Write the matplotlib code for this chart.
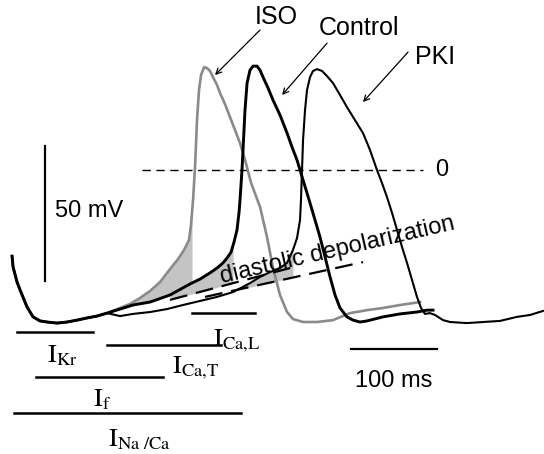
import numpy as np
import matplotlib.pyplot as plt

plt.rcParams['font.family'] = ['Liberation Sans', 'DejaVu Sans']
plt.rcParams['mathtext.fontset'] = 'stix'

# shared start of all three traces (time ms, membrane potential mV)
t_start = [0, 1.2, 5.8, 9.3, 17.4, 24.4, 32.6, 40.7, 52.3, 64.0, 75.6, 87.2, 98.8, 110.5]
v_start = [-31.9, -35.9, -41.5, -44.4, -50.7, -54.4, -55.9, -56.3, -56.7, -56.3, -55.6, -54.8, -54.1, -53.0]

t_iso = [125.6, 137.2, 148.8, 160.5, 172.1, 183.7, 193.0, 200.0, 205.8, 208.1, 210.5, 212.8, 215.1,
         217.4, 219.8, 223.3, 226.7, 230.2, 233.7, 238.4, 241.9, 247.7, 253.5, 259.3, 265.1, 271.0,
         278.0, 288.4, 296.5, 303.5, 311.6, 319.8, 326.7, 338.4, 354.7, 373.3, 393.0, 412.8, 431.4,
         451.2, 474.4]
v_iso = [-51.1, -49.6, -47.4, -44.8, -41.5, -36.7, -33.0, -29.6, -25.9, -20.4, -11.1, 1.1, 18.5,
         29.6, 35.2, 38.1, 37.8, 36.7, 34.4, 31.5, 28.5, 24.4, 19.6, 14.8, 10.0, 3.7,
         -4.8, -13.7, -24.8, -36.3, -46.3, -52.6, -55.2, -56.3, -56.3, -55.6, -53.0, -51.9, -51.1,
         -50.0, -48.9]

t_ctrl = [125.6, 140.7, 160.5, 183.7, 207.0, 218.6, 230.2, 238.4, 245.3, 250.0, 254.7, 258.1, 261.6,
          264.0, 265.1, 267.4, 268.6, 270.9, 273.3, 276.7, 280.2, 284.9, 288.4, 291.9, 297.7, 303.5,
          311.6, 319.8, 325.6, 331.4, 338.4, 346.5, 352.3, 358.1, 364.0, 369.8, 375.6, 381.4, 389.5,
          396.5, 404.7, 412.8, 431.4, 451.2, 470.9, 482.6, 489.5]
v_ctrl = [-51.5, -50.0, -48.9, -46.3, -42.2, -40.4, -38.1, -36.3, -34.4, -32.6, -30.4, -26.7, -22.2,
          -15.6, -11.1, 0.0, 7.4, 22.2, 32.2, 37.0, 38.5, 38.5, 37.0, 34.4, 30.4, 25.9,
          20.4, 13.7, 8.5, 3.7, -3.7, -12.2, -18.5, -24.8, -32.2, -39.6, -46.3, -51.1, -54.4,
          -55.6, -56.3, -55.9, -54.4, -53.3, -52.6, -51.9, -51.9]

t_pki = [125.6, 140.7, 160.5, 180.2, 198.8, 218.6, 238.4, 257.0, 276.7, 288.4, 300.0, 311.6, 319.8,
         326.7, 331.4, 334.9, 336.0, 337.2, 338.4, 340.7, 343.0, 346.5, 350.0, 354.7, 360.5, 366.3,
         373.3, 381.4, 389.5, 398.8, 408.1, 416.3, 424.4, 430.2, 436.0, 441.9, 447.7, 453.5, 459.3,
         465.1, 470.9, 475.6, 480.2, 486.0, 491.9, 501.2, 509.3, 529.1, 547.7, 567.4, 587.2, 602.3, 617.4]
v_pki = [-54.1, -53.3, -52.6, -51.5, -50.0, -48.5, -47.0, -45.2, -41.9, -39.6, -37.8, -36.3, -34.4,
         -29.6, -25.2, -18.5, -11.1, 0.0, 11.1, 22.2, 29.6, 34.4, 36.7, 37.4, 36.7, 34.8,
         32.2, 27.8, 23.3, 18.5, 13.7, 7.4, 0.0, -4.8, -10.0, -15.9, -22.2, -28.5, -34.4,
         -40.7, -47.0, -51.1, -53.3, -53.0, -53.7, -55.6, -56.3, -56.7, -56.3, -55.9, -54.4, -53.7, -52.2]

# diastolic depolarization slopes (dashed)
t_slope_a = [183.7, 323.3]
v_slope_a = [-48.1, -36.3]
t_slope_b = [224.4, 408.1]
v_slope_b = [-47.0, -34.1]

# ionic current windows: start, end (ms), level (mV), label anchor
currents = ['Kr', 'Ca{,}L', 'Ca{,}T', 'f', 'Na\\ /Ca']
cur_t0 = [5.8, 209.3, 110.5, 27.9, 2.3]
cur_t1 = [94.2, 282.6, 243.0, 175.6, 266.3]
cur_v = [-60.0, -53.0, -64.8, -76.7, -90.0]
lab_t = [40.7, 233.7, 186.0, 94.2, 111.6]
lab_v = [-64.1, -58.1, -68.1, -80.4, -95.2]

t_iso_full = np.array(t_start + t_iso)
v_iso_full = np.array(v_start + v_iso)
t_ctrl_full = np.array(t_start + t_ctrl)
v_ctrl_full = np.array(v_start + v_ctrl)
t_pki_full = np.array(t_start + t_pki)
v_pki_full = np.array(v_start + v_pki)

fig = plt.figure(figsize=(5.44, 4.54), dpi=100)
ax = fig.add_axes([0, 0, 1, 1])
ax.set_xlim(-14.0, 618.6)
ax.set_ylim(-105.2, 63.0)
ax.axis('off')

shade = '#c4c4c4'
# ISO shading: between ISO and control
tt = np.linspace(119.8, 209.3, 120)
ax.fill_between(tt, np.interp(tt, t_ctrl_full, v_ctrl_full), np.interp(tt, t_iso_full, v_iso_full),
                color=shade, lw=0, zorder=1)
# control shading: between control and slope a
tt = np.linspace(183.7, 257.0, 120)
lo = np.interp(tt, t_slope_a, v_slope_a)
hi = np.interp(tt, t_ctrl_full, v_ctrl_full)
ax.fill_between(tt, lo, hi, where=hi >= lo, color=shade, lw=0, zorder=1)
# PKI shading: between PKI and slope b
tt = np.linspace(257.0, 326.7, 120)
lo = np.interp(tt, t_slope_b, v_slope_b)
hi = np.interp(tt, t_pki_full, v_pki_full)
ax.fill_between(tt, lo, hi, where=hi >= lo, color=shade, lw=0, zorder=1)

ax.plot(t_iso_full, v_iso_full, color='#8a8a8a', lw=1.9, zorder=3)
ax.plot(t_ctrl_full, v_ctrl_full, color='black', lw=2.1, zorder=4)
ax.plot(t_pki_full, v_pki_full, color='black', lw=1.5, zorder=4)

ax.plot(t_slope_a, v_slope_a, color='black', lw=1.6, dashes=(8, 4), zorder=5)
ax.plot(t_slope_b, v_slope_b, color='black', lw=1.6, dashes=(8, 4), zorder=5)

# zero line
ax.plot([151.2, 477.9], [0, 0], color='black', lw=1.0, dashes=(6, 4))
ax.text(500, 0, '0', fontsize=17, ha='center', va='center')

# scale bars
ax.plot([38.4, 38.4], [8.9, -41.1], color='black', lw=1.6)
ax.text(50, -15.2, '50 mV', fontsize=17, ha='left', va='center')
ax.plot([394.2, 494.2], [-66.3, -66.3], color='black', lw=1.6)
ax.text(444.2, -74.1, '100 ms', fontsize=17, ha='center', va='top')

ax.text(244.2, -41.9, 'diastolic depolarization', fontsize=17, rotation=13,
        rotation_mode='anchor', ha='left', va='baseline', zorder=6)

# trace labels with arrows
labels = ['ISO', 'Control', 'PKI']
label_xy = [(307, 56.7), (403.5, 52.6), (491.9, 41.9)]
arrow_tail = [(288.4, 51.9), (366.3, 47.0), (460.5, 43.7)]
arrow_head = [(236.0, 35.2), (314.0, 27.8), (408.1, 25.2)]
for name, xy, tail, head in zip(labels, label_xy, arrow_tail, arrow_head):
    ax.text(xy[0], xy[1], name, fontsize=18, ha='center', va='center')
    ax.annotate('', xy=head, xytext=tail,
                arrowprops=dict(arrowstyle='->', color='black', lw=0.9, shrinkA=0, shrinkB=0))

# ionic current windows
for name, a, b, v, lt, lv in zip(currents, cur_t0, cur_t1, cur_v, lab_t, lab_v):
    ax.plot([a, b], [v, v], color='black', lw=1.8)
    ax.text(lt, lv, r'$\mathrm{I}_{\mathrm{' + name + '}}$', fontsize=19, ha='left', va='top')

plt.savefig('out.png')
plt.close()
